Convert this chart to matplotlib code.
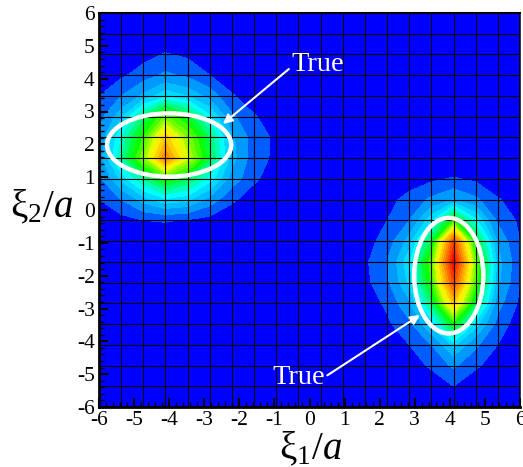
import numpy as np
import matplotlib
matplotlib.use('Agg')
import matplotlib.pyplot as plt
from matplotlib.colors import LinearSegmentedColormap
from matplotlib.patches import Ellipse
from matplotlib.ticker import MultipleLocator

plt.rcParams['font.family'] = ['Liberation Serif']
plt.rcParams['mathtext.fontset'] = 'custom'
plt.rcParams['mathtext.rm'] = 'Liberation Serif'
plt.rcParams['mathtext.it'] = 'Liberation Serif:italic'
plt.rcParams['axes.unicode_minus'] = False

# mesh nodes, 20 by 20 between -6 and 6
n_nodes = 20
axis_min, axis_max = -6, 6

# blob values read off the bands, each row listed from top to bottom
# left blob: rows 17 to 9, columns 0 to 8
left_rows = [17, 16, 15, 14, 13, 12, 11, 10, 9]
left_blob = [
    [.00, .01, .03, .055, .04, .01, 0, 0, 0],
    [.015, .04, .075, .11, .09, .05, .02, 0, 0],
    [.05, .10, .16, .22, .19, .13, .055, .02, 0],
    [.08, .18, .33, .48, .38, .24, .11, .055, .02],
    [.11, .27, .43, .68, .50, .34, .16, .075, .04],
    [.12, .30, .50, .80, .56, .36, .17, .07, .04],
    [.09, .20, .31, .42, .35, .25, .13, .06, .02],
    [.05, .10, .17, .22, .20, .13, .06, .02, 0],
    [.015, .03, .05, .055, .045, .03, .01, 0, 0],
]
# right blob: rows 11 to 1, columns 12 to 19
right_rows = [11, 10, 9, 8, 7, 6, 5, 4, 3, 2, 1]
right_blob = [
    [0, 0, .02, .04, .055, .04, .01, 0],
    [0, .03, .07, .11, .15, .11, .055, .02],
    [.02, .05, .10, .22, .42, .24, .09, .04],
    [.03, .07, .17, .36, .88, .38, .14, .05],
    [.04, .10, .22, .46, 1.0, .48, .17, .06],
    [.035, .09, .20, .43, .88, .45, .16, .05],
    [.02, .06, .14, .33, .68, .35, .12, .04],
    [0, .04, .09, .20, .40, .21, .08, .02],
    [0, .01, .05, .10, .20, .11, .05, .01],
    [0, 0, .02, .06, .11, .06, .02, 0],
    [0, 0, 0, .01, .05, .01, 0, 0],
]

levels = [0, .05, .10, .15, .19, .23, .27, .31, .35, .39, .43, .47, .51, .55,
          .60, .65, .70, .75, .80, .85, .90, .95, 1.01]
color_stops = [(0, '#0000ff'), (.12, '#0096ff'), (.25, '#00ffff'), (.40, '#00ff00'),
               (.60, '#ffff00'), (1, '#ff0000')]

# ellipses: centre x, centre y, width, height
ellipse_x = [-4.0, 3.97]
ellipse_y = [1.98, -2.0]
ellipse_w = [3.54, 1.97]
ellipse_h = [1.93, 3.52]

ticks = np.arange(-6, 7)

field = np.zeros((n_nodes, n_nodes))
for row, vals in zip(left_rows, left_blob):
    field[row, 0:9] = vals
for row, vals in zip(right_rows, right_blob):
    field[row, 12:20] = vals
mesh = np.linspace(axis_min, axis_max, n_nodes)

fig = plt.figure(figsize=(5.23, 4.67), dpi=100)
ax = fig.add_axes([99 / 523, 1 - 407 / 467, 421 / 523, 394 / 467])

cmap = LinearSegmentedColormap.from_list('rainbow_bands', color_stops)
mids = [(a + b) / 2 for a, b in zip(levels[:-1], levels[1:])]
band_colors = [cmap(0.0)] + [cmap(m) for m in mids[1:]]
ax.contourf(mesh, mesh, field, levels=levels, colors=band_colors)

for m in mesh:
    ax.axvline(m, color='black', lw=0.8, zorder=3)
    ax.axhline(m, color='black', lw=0.8, zorder=3)

for cx, cy, w, h in zip(ellipse_x, ellipse_y, ellipse_w, ellipse_h):
    ax.add_patch(Ellipse((cx, cy), w, h, fill=False, ec='white', lw=3.2, zorder=4))

ax.annotate('True', xy=(-2.47, 2.62), xytext=(-0.51, 4.44), color='white', fontsize=20.5,
            ha='left', va='center', zorder=5,
            arrowprops=dict(arrowstyle='-|>', color='white', lw=1.5, shrinkA=0, shrinkB=0,
                            mutation_scale=14, relpos=(0, 0.4)))
ax.annotate('True', xy=(3.15, -3.2), xytext=(0.43, -5.09), color='white', fontsize=20.5,
            ha='right', va='center', zorder=5,
            arrowprops=dict(arrowstyle='-|>', color='white', lw=1.5, shrinkA=0, shrinkB=0,
                            mutation_scale=14, relpos=(1, 0.5)))

ax.set_xlim(axis_min, axis_max)
ax.set_ylim(axis_min, axis_max)
ax.set_xticks(ticks)
ax.set_yticks(ticks)
ax.xaxis.set_minor_locator(MultipleLocator(0.2))
ax.yaxis.set_minor_locator(MultipleLocator(0.2))
ax.tick_params(which='major', direction='in', length=6.5, width=1.5, labelsize=15.5, pad=3)
ax.tick_params(which='minor', direction='in', length=3.6, width=1)
for side in ['left', 'bottom']:
    ax.spines[side].set_linewidth(2)
ax.spines['top'].set_linewidth(1.5)
ax.spines['right'].set_linewidth(1.1)

fig.text(311 / 523, 1 - 449 / 467, r'$\mathrm{ξ}_{1}/\mathit{a}$', fontsize=28, ha='center', va='center')
fig.text(42 / 523, 1 - 207 / 467, r'$\mathrm{ξ}_{2}/\mathit{a}$', fontsize=28, ha='center', va='center')

fig.savefig('out.png', dpi=100)
